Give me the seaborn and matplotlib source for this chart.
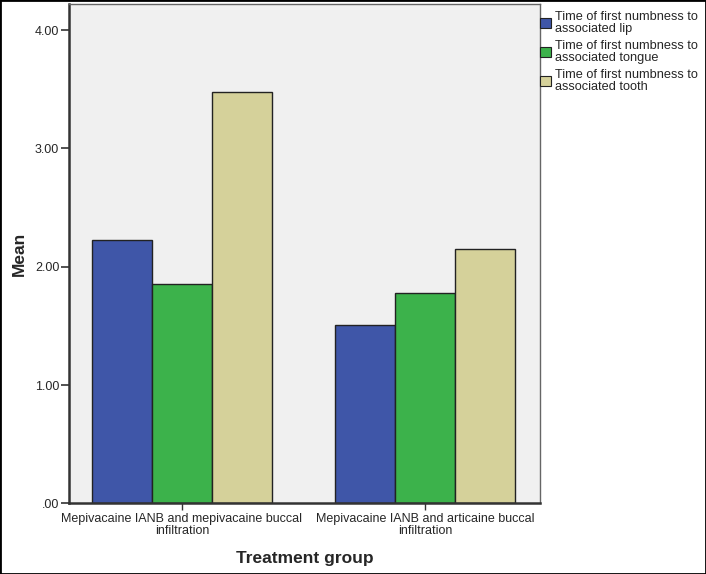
import matplotlib
matplotlib.use("Agg")
import matplotlib.pyplot as plt
import seaborn as sns
import pandas as pd
from matplotlib.patches import Patch
from matplotlib.ticker import FuncFormatter

groups = ["Mepivacaine IANB and mepivacaine buccal\ninfiltration",
          "Mepivacaine IANB and articaine buccal\ninfiltration"]
series = ["Time of first numbness to\nassociated lip",
          "Time of first numbness to\nassociated tongue",
          "Time of first numbness to\nassociated tooth"]
lip = [2.23, 1.51]
tongue = [1.85, 1.78]
tooth = [3.48, 2.15]
colors = ["#3F56A8", "#3CB24B", "#D5D19A"]

rows = []
for s, vals in zip(series, [lip, tongue, tooth]):
    for g, v in zip(groups, vals):
        rows.append({"group": g, "series": s, "value": v})
df = pd.DataFrame(rows)

sns.set_style("white")
plt.rcParams["font.family"] = ["Liberation Sans", "DejaVu Sans"]

fig = plt.figure(figsize=(7.06, 5.74), dpi=100)
ax = fig.add_axes([0.0977, 0.123, 0.667, 0.8695])
ax.set_facecolor("#F0F0F0")

sns.barplot(data=df, x="group", y="value", hue="series", palette=colors,
            saturation=1, width=0.74, edgecolor="#222222", linewidth=1.0,
            ax=ax, legend=False)

ax.set_xlim(-0.465, 1.473)
ax.set_ylim(0, 4.218)
ax.set_yticks([0, 1, 2, 3, 4])
ax.yaxis.set_major_formatter(FuncFormatter(lambda v, p: ".00" if v == 0 else f"{v:.2f}"))
ax.tick_params(axis="y", length=6, width=1.2, color="#333333", labelsize=9, pad=1, left=True)
ax.tick_params(axis="x", length=5, width=1.0, color="#333333", labelsize=9, pad=2, bottom=True)
for lab in ax.get_xticklabels():
    lab.set_linespacing(0.95)
for sp in ["left", "bottom"]:
    ax.spines[sp].set_linewidth(1.8)
    ax.spines[sp].set_color("#333333")
for sp in ["top", "right"]:
    ax.spines[sp].set_linewidth(1.0)
    ax.spines[sp].set_color("#666666")

ax.set_xlabel("Treatment group", fontsize=12.5, fontweight="bold", labelpad=10)
ax.set_ylabel("Mean", fontsize=12.5, fontweight="bold", labelpad=6)

handles = [Patch(facecolor=c, edgecolor="#222222", linewidth=0.8) for c in colors]
leg = fig.legend(handles, series, loc="upper left", bbox_to_anchor=(0.757, 0.99),
                 frameon=False, fontsize=9.2, handlelength=0.9, handleheight=0.9,
                 handletextpad=0.3, labelspacing=0.4, borderaxespad=0)
for t in leg.get_texts():
    t.set_linespacing(1.0)

# outer border
fig.patches.append(plt.Rectangle((0, 0), 1, 1, transform=fig.transFigure,
                                 fill=False, edgecolor="black", linewidth=2))

fig.savefig("out.png", dpi=100)
